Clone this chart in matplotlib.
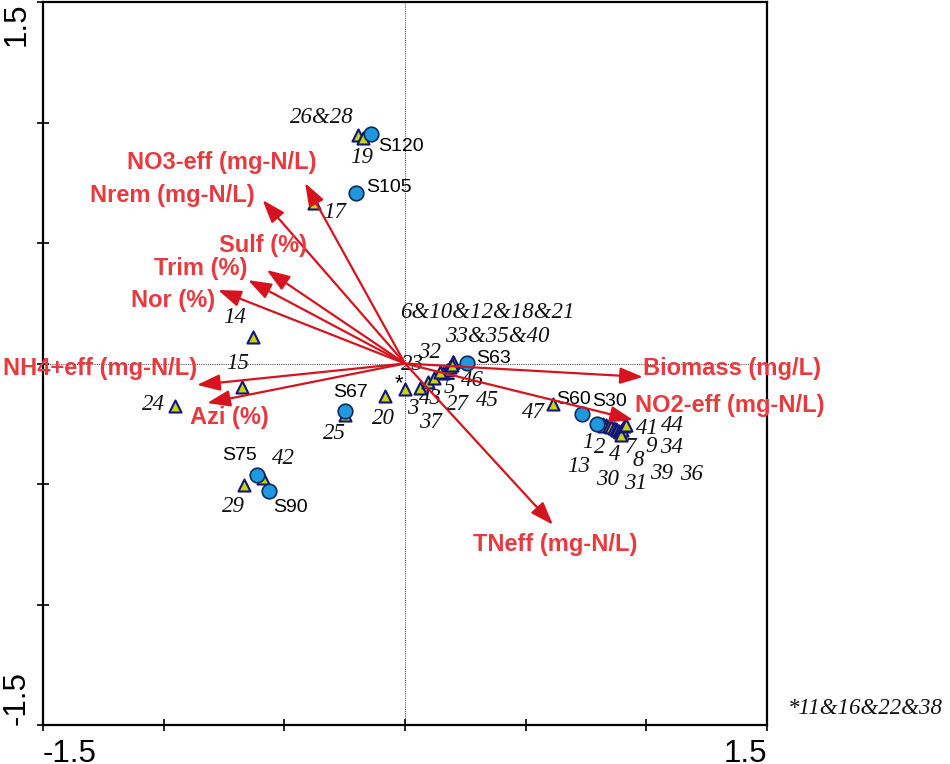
import matplotlib
matplotlib.use("Agg")
import matplotlib.pyplot as plt

plt.rcParams['font.family'] = ['Liberation Sans', 'DejaVu Sans']

# ---------------- data ----------------
env_names = ["NO3-eff (mg-N/L)", "Nrem (mg-N/L)", "Sulf (%)", "Trim (%)", "Nor (%)",
             "NH4+eff (mg-N/L)", "Azi (%)", "Biomass (mg/L)", "NO2-eff (mg-N/L)", "TNeff (mg-N/L)"]
env_x = [-0.414, -0.590, -0.573, -0.650, -0.775, -0.862, -0.820, 0.986, 0.945, 0.613]
env_y = [0.749, 0.678, 0.388, 0.346, 0.305, -0.089, -0.164, -0.056, -0.234, -0.669]

sample_names = ["S120", "S105", "S63", "S60", "S30", "S67", "S75", "S90"]
sample_x = [-0.141, -0.203, 0.257, 0.734, 0.796, -0.249, -0.613, -0.564]
sample_y = [0.952, 0.707, 0.002, -0.210, -0.251, -0.197, -0.463, -0.529]

case_names = ["26&28", "19", "17", "14", "15", "24", "25", "20", "42", "29",
              "*", "3", "43", "37", "27", "5", "45", "46", "32", "6&10&12&18&21", "33&35&40",
              "47", "1", "2", "13", "4", "30", "7", "8", "31", "9", "39", "34", "36", "41", "44"]
case_x = [-0.195, -0.174, -0.377, -0.630, -0.676, -0.953, -0.249, -0.083, -0.588, -0.667,
          0.000, 0.062, 0.095, 0.120, 0.157, 0.174, 0.186, 0.199, 0.145, 0.199, 0.195,
          0.613, 0.821, 0.833, 0.825, 0.845, 0.854, 0.866, 0.874, 0.879, 0.887, 0.891, 0.899, 0.895, 0.908, 0.916]
case_y = [0.948, 0.935, 0.666, 0.110, -0.098, -0.176, -0.214, -0.135, -0.475, -0.504,
          -0.106, -0.102, -0.077, -0.060, -0.039, -0.027, -0.015, 0.006, -0.035, 0.006, -0.005,
          -0.168, -0.251, -0.255, -0.259, -0.259, -0.263, -0.268, -0.272, -0.276, -0.280, -0.284, -0.276, -0.297, -0.259, -0.255]

footnote = "*11&16&22&38"

# ---------------- layout / style (pixel offsets of labels) ----------------
env_label_pos = {  # label anchor in data units, ha
    "NO3-eff (mg-N/L)": (-0.365, 0.836, 'right'),
    "Nrem (mg-N/L)": (-0.622, 0.699, 'right'),
    "Sulf (%)": (-0.406, 0.488, 'right'),
    "Trim (%)": (-0.655, 0.396, 'right'),
    "Nor (%)": (-0.787, 0.263, 'right'),
    "NH4+eff (mg-N/L)": (-0.862, -0.019, 'right'),
    "Azi (%)": (-0.891, -0.226, 'left'),
    "Biomass (mg/L)": (0.986, -0.019, 'left'),
    "NO2-eff (mg-N/L)": (0.953, -0.176, 'left'),
    "TNeff (mg-N/L)": (0.622, -0.753, 'center'),
}
sample_off = {  # dx px, dy px (down), ha
    "S120": (7, 12, 'left'), "S105": (10, -6, 'left'), "S63": (9, -5, 'left'),
    "S60": (-26, -15, 'left'), "S30": (-5, -22, 'left'), "S67": (-12, -18, 'left'),
    "S75": (-35, -20, 'left'), "S90": (4, 17, 'left'),
}
case_off = {
    "26&28": (-36, -18), "19": (-1, 19), "17": (21, 10), "14": (-18, -19), "15": (-4, -24),
    "24": (-22, -1), "25": (-10, 18), "20": (-1, 22), "42": (20, -19), "29": (-11, 22),
    "*": (-6, -5), "3": (-7, 20), "43": (3, 16), "37": (-3, 45), "27": (15, 32), "5": (2, 17),
    "45": (38, 33), "46": (19, 18), "32": (-10, -19), "6&10&12&18&21": (34, -50),
    "33&35&40": (45, -28), "47": (-19, 9), "1": (-15, 19), "2": (-6, 23), "13": (-25, 41),
    "4": (6, 29), "30": (-4, 53), "7": (16, 19), "8": (22, 31), "31": (18, 53), "9": (32, 16),
    "39": (42, 42), "34": (50, 17), "36": (71, 39), "41": (23, 3), "44": (46, 1),
}

ARROW_RED = "#d5141f"
TEXT_RED = "#e63a3f"
CIRCLE_FILL = "#1f98de"
CIRCLE_EDGE = "#0d2a5c"
TRI_FILL = "#c5d600"
TRI_EDGE = "#14147e"

fig = plt.figure(figsize=(9.5, 7.64), dpi=100)
ax = fig.add_axes([43/950, 39/764, 724/950, 723/764])
ax.set_xlim(-1.5, 1.5)
ax.set_ylim(-1.5, 1.5)

for s in ax.spines.values():
    s.set_linewidth(1.6)

ax.axhline(0, color="#555555", lw=0.8, ls=(0, (1, 1)), zorder=1)
ax.axvline(0, color="#555555", lw=0.8, ls=(0, (1, 1)), zorder=1)

# ticks
ax.set_xticks([-1.5, 1.5], ["-1.5", "1.5"])
ax.set_yticks([-1.5, 1.5], ["-1.5", "1.5"])
ax.set_xticks([-1.0, -0.5, 0.0, 0.5, 1.0], minor=True)
ax.set_yticks([-1.0, -0.5, 0.0, 0.5, 1.0], minor=True)
ax.tick_params(which='both', direction='inout', length=8, width=1.2, labelsize=22.5)
ax.tick_params(axis='x', pad=6)
ax.tick_params(axis='y', pad=4)
for lab, ha in zip(ax.get_xticklabels(), ['left', 'right']):
    lab.set_ha(ha)
for lab, va in zip(ax.get_yticklabels(), ['bottom', 'top']):
    lab.set_rotation(90)
    lab.set_va(va)

# case triangles
ax.scatter(case_x, case_y, marker='^', s=75, facecolor=TRI_FILL, edgecolor=TRI_EDGE,
           linewidth=1.5, zorder=3)
for n, x, y in zip(case_names, case_x, case_y):
    dx, dy = case_off[n]
    if n == "*":
        ax.annotate(n, (x, y), xytext=(dx * 0.72, -dy * 0.72), textcoords='offset points',
                    ha='center', va='center', fontsize=16, color='black', zorder=2)
    else:
        ax.annotate(n, (x, y), xytext=(dx * 0.72, -dy * 0.72), textcoords='offset points',
                    ha='center', va='center', fontsize=16.5, color='#111111', zorder=2,
                    family='Liberation Serif', style='italic')
# label near origin
ax.annotate("23", (0, 0), xytext=(7 * 0.72, -1 * 0.72), textcoords='offset points',
            ha='center', va='center', fontsize=16.5, color='#111111', zorder=2,
            family='Liberation Serif', style='italic')

# sample circles
ax.scatter(sample_x, sample_y, marker='o', s=110, facecolor=CIRCLE_FILL, edgecolor=CIRCLE_EDGE,
           linewidth=1.2, zorder=3)
for n, x, y in zip(sample_names, sample_x, sample_y):
    dx, dy, ha = sample_off[n]
    ax.annotate(n, (x, y), xytext=(dx * 0.72, -dy * 0.72), textcoords='offset points',
                ha=ha, va='center', fontsize=14, color='black', zorder=2)

# environmental arrows
for n, x, y in zip(env_names, env_x, env_y):
    ax.annotate("", xy=(x, y), xytext=(0, 0),
                arrowprops=dict(arrowstyle='-|>,head_length=0.7,head_width=0.25',
                                color=ARROW_RED, lw=1.6, mutation_scale=20,
                                shrinkA=0, shrinkB=0), zorder=4)
    lx, ly, ha = env_label_pos[n]
    ax.text(lx, ly, n, ha=ha, va='center', fontsize=17, fontweight='bold',
            color=TEXT_RED, zorder=5)

fig.text(788/950, 1 - 708/764, footnote, ha='left', va='center', fontsize=16.5,
         family='Liberation Serif', style='italic', color='#111111')

fig.savefig("out.png", dpi=100)
